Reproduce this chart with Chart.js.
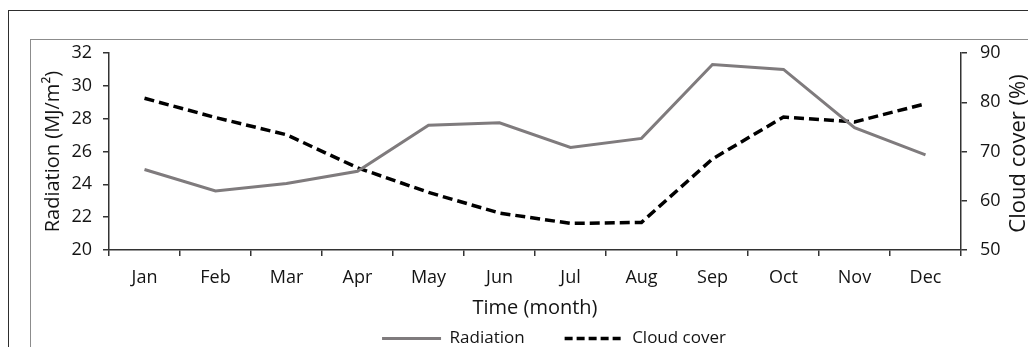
<!DOCTYPE html>
<html>
<head>
<meta charset="utf-8">
<title>Radiation and cloud cover</title>
<script src="https://cdn.jsdelivr.net/npm/chart.js@4.4.1/dist/chart.umd.min.js"></script>
<style>
  html, body { margin: 0; padding: 0; background: #fff; width: 1028px; height: 347px; overflow: hidden; }
  .frame { position: absolute; width: 2000px; height: 2000px; box-sizing: border-box; }
  .outer { left: 8px; top: 10px; border: 1.5px solid #2e2e2e; }
  .inner { left: 30px; top: 39px; border: 1px solid #8c8c8c; }
  #chart { position: absolute; left: 0; top: 0; }
</style>
</head>
<body>
<div class="frame outer"></div>
<div class="frame inner"></div>
<canvas id="chart" width="1108" height="347"></canvas>
<script>
const months = ['Jan', 'Feb', 'Mar', 'Apr', 'May', 'Jun', 'Jul', 'Aug', 'Sep', 'Oct', 'Nov', 'Dec'];
const radiation = [24.9, 23.6, 24.05, 24.8, 27.6, 27.75, 26.25, 26.8, 31.3, 31.0, 27.45, 25.8];
const cloudCover = [80.8, 76.9, 73.4, 66.7, 61.7, 57.5, 55.4, 55.6, 68.5, 77.0, 76.0, 79.7];
const radiationTicks = [20, 22, 24, 26, 28, 30, 32];
const cloudTicks = [50, 60, 70, 80, 90];

const FONT = "'Open Sans', sans-serif";
const TEXT = '#141414';
const AXIS = '#333333';

// the right axis title reads bottom to top, so it is drawn here
const rightTitle = {
  id: 'rightTitle',
  afterDraw(chart) {
    const { ctx, chartArea } = chart;
    ctx.save();
    ctx.translate(1019, (chartArea.top + chartArea.bottom) / 2 + 2);
    ctx.rotate(-Math.PI / 2);
    ctx.font = '22px ' + FONT;
    ctx.fillStyle = TEXT;
    ctx.textAlign = 'center';
    ctx.textBaseline = 'middle';
    ctx.fillText('Cloud cover (%)', 0, 0);
    ctx.restore();
  }
};

new Chart(document.getElementById('chart'), {
  type: 'line',
  data: {
    labels: months,
    datasets: [
      {
        label: 'Radiation',
        data: radiation,
        yAxisID: 'y',
        borderColor: '#7f7b7d',
        borderWidth: 3,
        pointRadius: 0,
        tension: 0
      },
      {
        label: 'Cloud cover',
        data: cloudCover,
        yAxisID: 'y1',
        borderColor: '#000000',
        borderWidth: 3.5,
        borderDash: [10, 5],
        pointRadius: 0,
        tension: 0
      }
    ]
  },
  options: {
    responsive: false,
    animation: false,
    layout: { padding: { top: 53, left: 0, right: 0, bottom: -10 } },
    plugins: {
      tooltip: { enabled: false },
      legend: {
        position: 'bottom',
        labels: {
          usePointStyle: true,
          pointStyle: 'line',
          pointStyleWidth: 59,
          padding: 40,
          color: TEXT,
          font: { family: FONT, size: 17 },
          generateLabels(chart) {
            const items = Chart.defaults.plugins.legend.labels.generateLabels(chart);
            items.forEach(item => {
              const ds = chart.data.datasets[item.datasetIndex];
              item.lineDash = ds.borderDash ? [8, 4] : [];
              item.lineWidth = ds.borderWidth;
            });
            return items;
          }
        }
      }
    },
    scales: {
      x: {
        offset: true,
        grid: { offset: true, drawOnChartArea: false, tickLength: 6, color: AXIS, lineWidth: 1.5 },
        border: { color: AXIS, width: 1.5 },
        ticks: { color: TEXT, padding: 11, font: { family: FONT, size: 18 } },
        title: { display: true, text: 'Time (month)', color: TEXT, font: { family: FONT, size: 20 }, padding: { top: 0, bottom: -30 } },
        afterFit(axis) { axis.height = 40; }
      },
      y: {
        position: 'left',
        min: 20,
        max: 32,
        afterBuildTicks(axis) { axis.ticks = radiationTicks.map(v => ({ value: v })); },
        grid: { drawOnChartArea: false, tickLength: 6, color: AXIS, lineWidth: 1.5 },
        border: { color: AXIS, width: 1.5 },
        ticks: { color: TEXT, padding: 11, font: { family: FONT, size: 18 } },
        title: { display: true, text: 'Radiation (MJ/m²)', color: TEXT, font: { family: FONT, size: 20 }, padding: { top: 41, bottom: 0 } },
        afterFit(axis) { axis.width = 109; }
      },
      y1: {
        position: 'right',
        min: 50,
        max: 90,
        afterBuildTicks(axis) { axis.ticks = cloudTicks.map(v => ({ value: v })); },
        grid: { drawOnChartArea: false, tickLength: 6, color: AXIS, lineWidth: 1.5 },
        border: { color: AXIS, width: 1.5 },
        ticks: { color: TEXT, padding: 13, font: { family: FONT, size: 18 } },
        afterFit(axis) { axis.width = 147; }
      }
    }
  },
  plugins: [rightTitle]
});
</script>
</body>
</html>
